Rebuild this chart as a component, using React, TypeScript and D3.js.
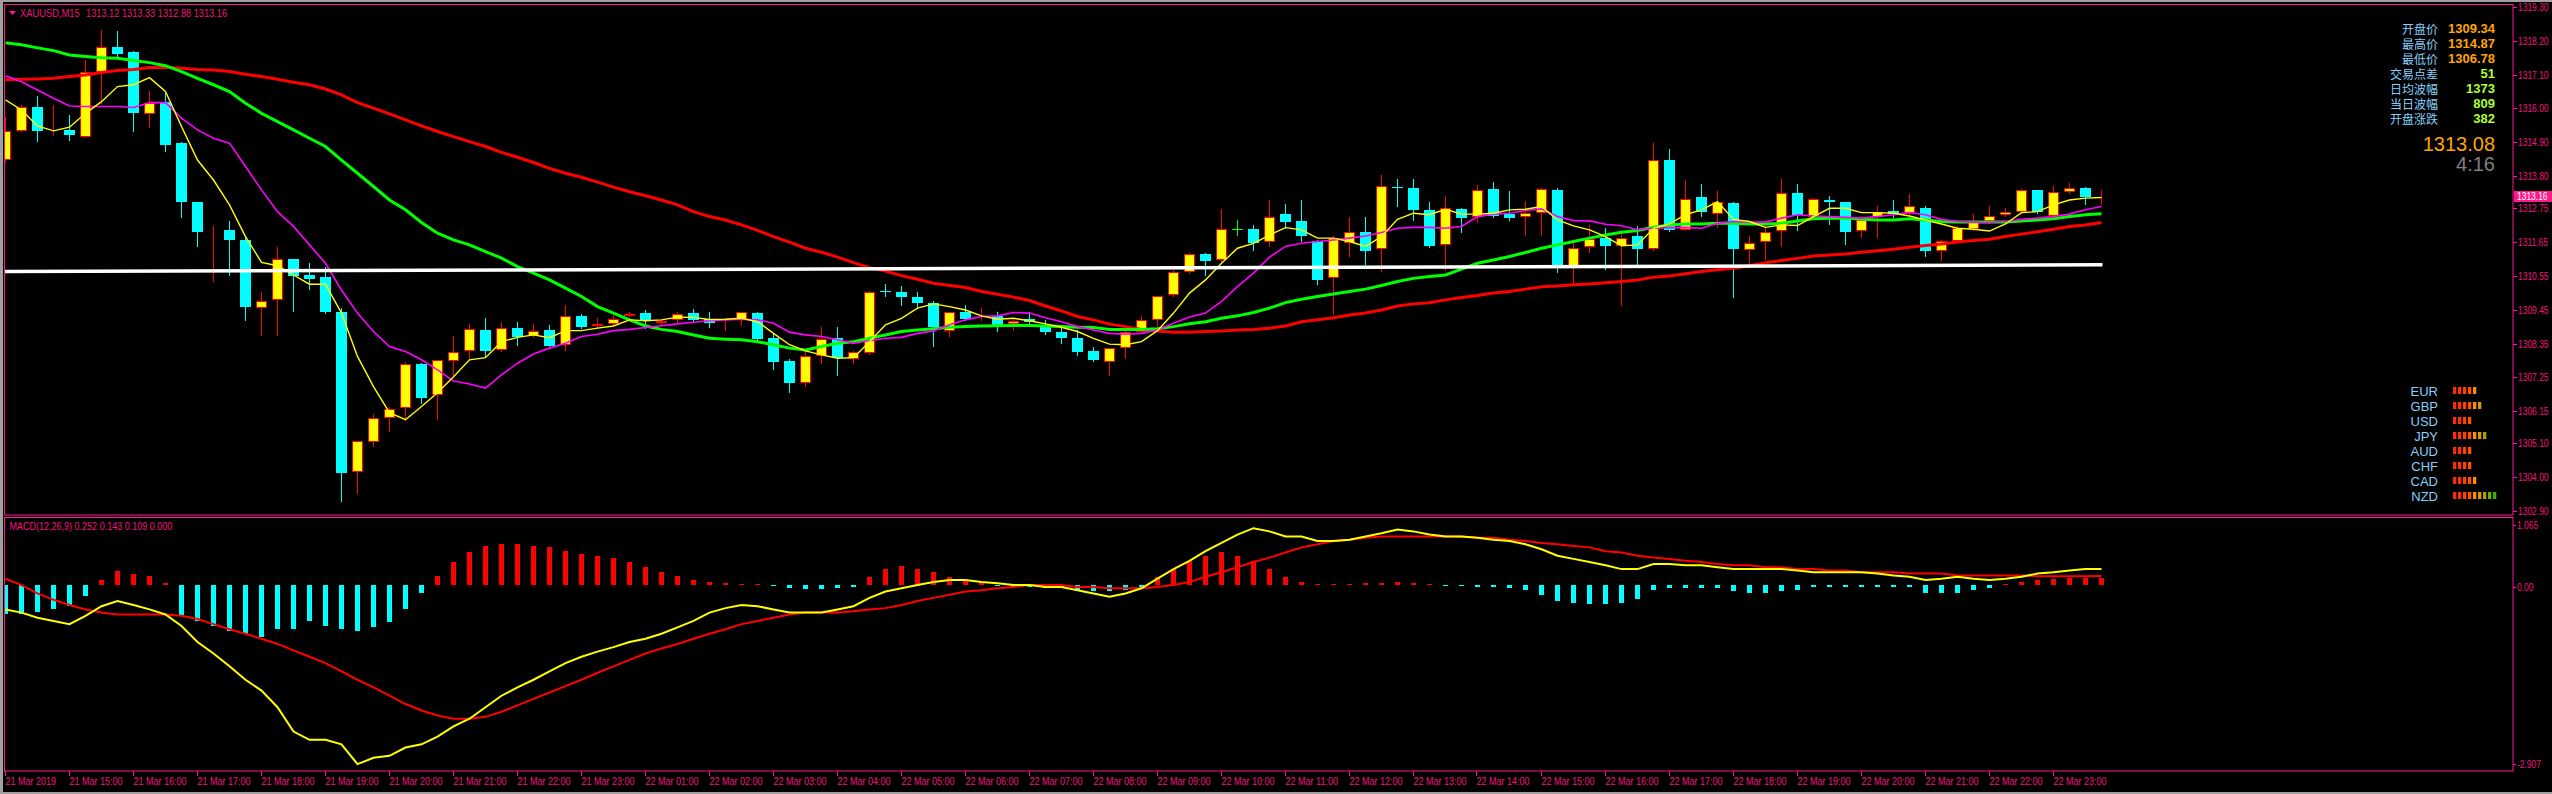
import React from "react";
import * as d3 from "d3";

// ---------- DATA ----------
const opens = [1314.32,1315.27,1316.04,1315.26,1315.30,1315.08,1317.20,1318.01,1317.82,1315.81,1316.22,1314.87,1312.97,1312.01,1312.03,1311.72,1309.50,1309.77,1311.09,1310.58,1310.50,1309.38,1304.16,1305.16,1305.92,1306.24,1307.69,1306.68,1307.79,1308.11,1308.79,1308.14,1308.85,1308.58,1308.79,1308.31,1309.25,1308.92,1308.99,1309.25,1309.34,1309.01,1309.10,1309.34,1309.15,1309.01,1309.15,1309.34,1308.52,1307.79,1307.06,1307.96,1308.52,1307.85,1308.03,1310.05,1310.02,1309.86,1309.68,1308.76,1309.37,1309.14,1309.26,1308.98,1309.14,1308.92,1308.74,1308.52,1308.11,1307.74,1308.20,1308.74,1309.10,1309.92,1310.67,1311.26,1311.07,1312.07,1312.07,1311.65,1312.56,1312.34,1311.69,1310.47,1311.63,1311.97,1311.42,1313.44,1313.40,1312.70,1311.56,1312.72,1312.48,1313.37,1312.56,1312.46,1312.61,1313.35,1310.80,1311.48,1311.78,1311.53,1311.85,1311.42,1314.32,1312.05,1313.11,1312.57,1312.91,1311.40,1311.65,1312.01,1313.24,1312.48,1313.02,1312.95,1312.01,1312.48,1312.67,1312.61,1312.75,1311.36,1311.69,1312.08,1312.34,1312.54,1312.64,1313.35,1312.50,1313.27,1313.40,1313.12];
const highs = [1315.73,1316.11,1316.39,1316.11,1315.79,1317.56,1318.55,1318.52,1317.87,1316.57,1316.49,1314.92,1312.97,1312.18,1312.34,1311.81,1310.04,1311.48,1311.09,1310.96,1310.85,1309.50,1305.19,1306.06,1306.30,1307.76,1307.71,1307.82,1308.58,1308.99,1309.19,1309.06,1309.06,1308.99,1308.96,1309.61,1309.31,1309.17,1309.28,1309.39,1309.44,1309.12,1309.36,1309.48,1309.37,1309.19,1309.39,1309.36,1308.68,1307.84,1308.14,1308.88,1308.88,1308.11,1310.06,1310.28,1310.23,1310.04,1309.72,1309.39,1309.61,1309.50,1309.39,1309.12,1309.39,1309.12,1308.85,1308.79,1308.25,1308.20,1308.96,1309.25,1309.91,1310.75,1311.31,1311.31,1312.73,1312.37,1312.21,1313.02,1312.89,1313.02,1311.72,1311.85,1312.46,1312.46,1313.84,1313.70,1313.70,1312.94,1313.15,1312.75,1313.51,1313.60,1313.32,1312.99,1313.40,1313.40,1311.61,1312.21,1312.10,1312.05,1312.16,1314.87,1314.68,1313.67,1313.54,1313.32,1312.94,1311.85,1312.18,1313.70,1313.54,1313.08,1313.15,1312.97,1312.48,1312.83,1313.02,1313.22,1312.83,1311.72,1312.16,1312.57,1312.83,1312.77,1313.37,1313.35,1313.48,1313.57,1313.44,1313.33];
const lows = [1314.30,1315.25,1314.95,1315.14,1314.98,1315.06,1316.17,1317.69,1315.25,1315.41,1314.63,1312.48,1311.51,1310.40,1310.58,1309.10,1308.63,1308.63,1309.42,1310.12,1309.34,1303.21,1303.50,1305.00,1305.49,1305.87,1306.41,1305.89,1307.33,1307.87,1307.93,1308.10,1308.31,1308.56,1308.26,1308.14,1308.85,1308.90,1308.96,1309.23,1308.85,1308.99,1309.06,1309.06,1308.88,1308.79,1308.96,1308.48,1307.52,1306.78,1306.98,1307.73,1307.33,1307.73,1308.00,1309.91,1309.61,1309.55,1308.27,1308.60,1309.12,1309.12,1308.77,1308.79,1309.01,1308.66,1308.38,1307.98,1307.78,1307.33,1307.89,1308.68,1308.92,1309.90,1310.64,1310.58,1311.05,1311.88,1311.40,1311.51,1312.16,1311.67,1310.29,1309.31,1311.20,1310.93,1310.72,1312.83,1312.37,1311.49,1310.75,1311.99,1312.32,1312.48,1312.37,1311.88,1311.88,1310.67,1310.28,1311.34,1310.77,1309.61,1310.83,1311.40,1312.01,1312.03,1312.51,1312.13,1309.86,1310.83,1311.10,1311.51,1312.03,1312.43,1312.23,1311.59,1311.80,1311.81,1312.48,1312.54,1311.21,1311.07,1311.67,1312.05,1312.26,1312.50,1312.61,1312.61,1312.48,1313.24,1312.89,1312.88];
const closes = [1315.25,1316.06,1315.25,1315.28,1315.12,1317.20,1317.99,1317.77,1315.86,1316.19,1314.81,1312.94,1311.99,1312.04,1311.72,1309.53,1309.72,1311.09,1310.55,1310.45,1309.36,1304.15,1305.19,1305.92,1306.21,1307.69,1306.59,1307.80,1308.09,1308.82,1308.11,1308.85,1308.55,1308.77,1308.28,1309.23,1308.90,1308.99,1309.15,1309.30,1309.09,1309.09,1309.31,1309.12,1309.03,1309.06,1309.36,1308.50,1307.76,1307.06,1307.96,1308.50,1307.87,1308.07,1310.04,1310.02,1309.85,1309.66,1308.90,1309.36,1309.14,1309.19,1308.96,1309.09,1309.06,1308.71,1308.52,1308.09,1307.80,1308.20,1308.74,1309.10,1309.91,1310.67,1311.26,1311.05,1312.07,1312.07,1311.61,1312.48,1312.32,1311.85,1310.42,1311.78,1311.97,1311.37,1313.46,1313.40,1312.70,1311.51,1312.75,1312.43,1313.33,1312.50,1312.45,1312.61,1313.37,1310.80,1311.47,1311.74,1311.53,1311.78,1311.42,1314.32,1312.03,1313.04,1312.62,1312.97,1311.42,1311.61,1311.97,1313.24,1312.54,1313.04,1312.94,1311.99,1312.37,1312.62,1312.56,1312.81,1311.37,1311.67,1312.10,1312.32,1312.51,1312.62,1313.33,1312.64,1313.27,1313.40,1313.13,1313.16];

const maYellow = [1316.28,1315.95,1315.43,1315.27,1315.39,1315.84,1316.22,1316.71,1316.77,1317.00,1316.55,1315.41,1314.32,1313.67,1312.86,1311.83,1310.99,1310.88,1310.58,1310.28,1310.28,1309.34,1307.93,1306.95,1306.10,1305.87,1306.30,1306.75,1307.27,1307.82,1307.89,1308.41,1308.55,1308.63,1308.54,1308.77,1308.77,1308.85,1308.92,1309.12,1309.09,1309.12,1309.21,1309.20,1309.13,1309.14,1309.17,1309.06,1308.68,1308.31,1308.11,1307.98,1307.87,1307.89,1308.41,1308.96,1309.17,1309.50,1309.64,1309.55,1309.44,1309.25,1309.14,1309.17,1309.09,1308.99,1308.88,1308.74,1308.52,1308.33,1308.31,1308.41,1308.77,1309.34,1309.99,1310.42,1310.96,1311.45,1311.61,1311.88,1312.12,1312.05,1311.78,1311.78,1311.67,1311.51,1311.83,1312.39,1312.59,1312.54,1312.72,1312.56,1312.56,1312.59,1312.70,1312.72,1312.81,1312.37,1312.18,1312.05,1311.83,1311.53,1311.56,1312.10,1312.24,1312.54,1312.70,1312.97,1312.39,1312.32,1312.13,1312.21,1312.19,1312.48,1312.75,1312.75,1312.61,1312.61,1312.59,1312.50,1312.37,1312.24,1312.10,1312.07,1312.01,1312.24,1312.61,1312.64,1312.86,1313.02,1313.08,1313.10];
const maMagenta = [1317.06,1316.87,1316.60,1316.33,1316.08,1316.06,1316.06,1316.06,1316.03,1316.19,1316.19,1315.68,1315.30,1315.03,1314.87,1314.11,1313.35,1312.64,1312.16,1311.56,1310.96,1310.09,1309.34,1308.74,1308.25,1308.09,1307.82,1307.49,1307.13,1307.03,1306.90,1307.33,1307.71,1308.01,1308.20,1308.36,1308.58,1308.65,1308.77,1308.81,1308.87,1308.93,1308.99,1309.04,1309.09,1309.12,1309.14,1309.12,1309.01,1308.72,1308.63,1308.58,1308.47,1308.36,1308.44,1308.52,1308.55,1308.68,1308.76,1308.96,1309.12,1309.23,1309.25,1309.36,1309.34,1309.19,1309.06,1308.90,1308.79,1308.68,1308.65,1308.68,1308.79,1309.01,1309.21,1309.34,1309.72,1310.20,1310.64,1311.16,1311.51,1311.61,1311.67,1311.72,1311.78,1311.85,1311.96,1312.10,1312.13,1312.13,1312.10,1312.16,1312.48,1312.56,1312.59,1312.68,1312.73,1312.48,1312.35,1312.34,1312.23,1312.18,1312.05,1312.10,1312.12,1312.13,1312.10,1312.26,1312.32,1312.30,1312.30,1312.43,1312.54,1312.50,1312.48,1312.46,1312.43,1312.48,1312.54,1312.61,1312.54,1312.39,1312.32,1312.30,1312.29,1312.32,1312.39,1312.43,1312.48,1312.56,1312.70,1312.81];
const maGreen = [1318.14,1318.07,1317.97,1317.88,1317.74,1317.69,1317.65,1317.63,1317.56,1317.49,1317.39,1317.20,1316.98,1316.77,1316.55,1316.17,1315.84,1315.57,1315.30,1315.03,1314.76,1314.32,1313.89,1313.46,1313.02,1312.70,1312.29,1311.94,1311.72,1311.56,1311.34,1311.13,1310.85,1310.64,1310.42,1310.15,1309.88,1309.55,1309.34,1309.12,1308.92,1308.81,1308.74,1308.63,1308.52,1308.49,1308.47,1308.41,1308.31,1308.20,1308.14,1308.25,1308.36,1308.41,1308.52,1308.63,1308.74,1308.79,1308.83,1308.88,1308.90,1308.92,1308.93,1308.94,1308.94,1308.92,1308.90,1308.88,1308.87,1308.81,1308.81,1308.81,1308.83,1308.90,1308.99,1309.06,1309.17,1309.25,1309.36,1309.50,1309.68,1309.79,1309.88,1309.96,1310.04,1310.12,1310.24,1310.37,1310.47,1310.53,1310.58,1310.77,1310.96,1311.07,1311.18,1311.31,1311.45,1311.56,1311.67,1311.78,1311.88,1311.97,1312.03,1312.13,1312.21,1312.24,1312.24,1312.26,1312.26,1312.24,1312.24,1312.26,1312.34,1312.41,1312.43,1312.43,1312.39,1312.37,1312.37,1312.41,1312.37,1312.32,1312.30,1312.30,1312.30,1312.30,1312.34,1312.37,1312.41,1312.48,1312.54,1312.57];
const maRed = [1316.93,1316.95,1316.96,1316.98,1317.04,1317.09,1317.17,1317.23,1317.27,1317.33,1317.34,1317.31,1317.27,1317.25,1317.20,1317.11,1317.04,1316.95,1316.85,1316.77,1316.63,1316.44,1316.19,1316.01,1315.82,1315.63,1315.43,1315.25,1315.08,1314.92,1314.76,1314.57,1314.41,1314.24,1314.05,1313.89,1313.76,1313.60,1313.44,1313.29,1313.16,1313.02,1312.86,1312.64,1312.48,1312.37,1312.21,1312.03,1311.83,1311.65,1311.45,1311.32,1311.16,1310.98,1310.82,1310.71,1310.56,1310.44,1310.31,1310.24,1310.17,1310.04,1309.95,1309.86,1309.75,1309.57,1309.41,1309.23,1309.12,1308.98,1308.90,1308.81,1308.76,1308.72,1308.72,1308.74,1308.76,1308.79,1308.81,1308.85,1308.92,1309.06,1309.12,1309.19,1309.28,1309.34,1309.44,1309.57,1309.64,1309.68,1309.77,1309.85,1309.91,1309.99,1310.04,1310.12,1310.20,1310.22,1310.26,1310.29,1310.33,1310.37,1310.42,1310.51,1310.55,1310.62,1310.69,1310.75,1310.80,1310.88,1310.98,1311.05,1311.12,1311.20,1311.23,1311.26,1311.32,1311.37,1311.42,1311.48,1311.54,1311.59,1311.65,1311.70,1311.74,1311.83,1311.91,1311.99,1312.07,1312.16,1312.21,1312.29];

const macdMain = [-0.38,-0.43,-0.51,-0.56,-0.61,-0.48,-0.33,-0.25,-0.31,-0.38,-0.46,-0.64,-0.89,-1.07,-1.27,-1.48,-1.65,-1.91,-2.29,-2.42,-2.42,-2.49,-2.80,-2.70,-2.67,-2.54,-2.49,-2.37,-2.21,-2.09,-1.91,-1.73,-1.60,-1.48,-1.35,-1.22,-1.12,-1.04,-0.97,-0.89,-0.84,-0.76,-0.66,-0.56,-0.43,-0.36,-0.31,-0.33,-0.38,-0.43,-0.43,-0.43,-0.38,-0.33,-0.20,-0.10,-0.05,0.00,0.05,0.08,0.08,0.05,0.03,0.00,0.00,-0.03,-0.03,-0.08,-0.13,-0.18,-0.13,-0.05,0.10,0.25,0.38,0.53,0.66,0.79,0.89,0.84,0.76,0.76,0.69,0.69,0.71,0.76,0.81,0.87,0.84,0.79,0.76,0.76,0.74,0.71,0.69,0.64,0.56,0.46,0.41,0.36,0.31,0.25,0.25,0.33,0.33,0.31,0.31,0.28,0.25,0.25,0.25,0.25,0.23,0.20,0.20,0.20,0.20,0.18,0.15,0.13,0.08,0.10,0.13,0.10,0.08,0.10,0.13,0.18,0.20,0.23,0.25,0.252];
const macdSignal = [0.10,0.00,-0.13,-0.23,-0.31,-0.38,-0.43,-0.46,-0.46,-0.46,-0.46,-0.48,-0.53,-0.61,-0.69,-0.76,-0.84,-0.92,-1.02,-1.12,-1.22,-1.35,-1.48,-1.60,-1.73,-1.86,-1.96,-2.04,-2.09,-2.09,-2.06,-1.98,-1.88,-1.78,-1.68,-1.58,-1.48,-1.37,-1.27,-1.17,-1.07,-0.99,-0.92,-0.84,-0.76,-0.69,-0.61,-0.56,-0.51,-0.46,-0.43,-0.43,-0.43,-0.41,-0.38,-0.36,-0.31,-0.25,-0.20,-0.15,-0.10,-0.08,-0.05,-0.03,0.00,0.00,0.00,-0.03,-0.03,-0.05,-0.05,-0.05,-0.03,0.00,0.05,0.13,0.20,0.28,0.36,0.43,0.51,0.59,0.64,0.69,0.71,0.74,0.76,0.76,0.76,0.76,0.76,0.76,0.74,0.74,0.71,0.69,0.66,0.64,0.61,0.59,0.53,0.51,0.46,0.43,0.41,0.38,0.36,0.33,0.31,0.31,0.28,0.28,0.25,0.25,0.23,0.23,0.20,0.20,0.20,0.18,0.18,0.18,0.15,0.15,0.15,0.15,0.15,0.14,0.14,0.14,0.14,0.143];
const macdHist = [-0.45,-0.45,-0.42,-0.38,-0.32,-0.17,0.08,0.22,0.17,0.14,0.03,-0.46,-0.56,-0.64,-0.71,-0.76,-0.81,-0.69,-0.69,-0.56,-0.64,-0.69,-0.71,-0.66,-0.58,-0.38,-0.13,0.15,0.36,0.51,0.61,0.64,0.64,0.61,0.59,0.53,0.48,0.46,0.43,0.36,0.28,0.20,0.15,0.08,0.05,0.03,0.02,0.01,-0.02,-0.05,-0.06,-0.06,-0.05,-0.03,0.13,0.25,0.30,0.25,0.20,0.13,0.08,0.05,-0.02,-0.03,-0.03,-0.05,-0.05,-0.08,-0.10,-0.10,-0.08,-0.03,0.13,0.25,0.38,0.46,0.51,0.46,0.38,0.25,0.13,0.05,0.02,0.01,0.02,0.03,0.04,0.05,0.03,0.01,-0.01,-0.02,-0.03,-0.03,-0.05,-0.08,-0.15,-0.25,-0.28,-0.30,-0.30,-0.28,-0.22,-0.08,-0.05,-0.05,-0.05,-0.05,-0.10,-0.13,-0.13,-0.10,-0.08,-0.03,-0.03,-0.03,-0.03,-0.03,-0.03,-0.03,-0.12,-0.13,-0.12,-0.08,-0.05,0.02,0.05,0.08,0.10,0.11,0.11,0.109];

const trendStart = 1310.69;
const trendEnd = 1310.91;

const priceTicks = ["1319.30","1318.20","1317.10","1316.00","1314.90","1313.80","1312.75","1311.65","1310.55","1309.45","1308.35","1307.25","1306.15","1305.10","1304.00","1302.90"];
const macdTicks = ["1.065","0.00","-2.907"];
const timeLabels = ["21 Mar 2019","21 Mar 15:00","21 Mar 16:00","21 Mar 17:00","21 Mar 18:00","21 Mar 19:00","21 Mar 20:00","21 Mar 21:00","21 Mar 22:00","21 Mar 23:00","22 Mar 01:00","22 Mar 02:00","22 Mar 03:00","22 Mar 04:00","22 Mar 05:00","22 Mar 06:00","22 Mar 07:00","22 Mar 08:00","22 Mar 09:00","22 Mar 10:00","22 Mar 11:00","22 Mar 12:00","22 Mar 13:00","22 Mar 14:00","22 Mar 15:00","22 Mar 16:00","22 Mar 17:00","22 Mar 18:00","22 Mar 19:00","22 Mar 20:00","22 Mar 21:00","22 Mar 22:00","22 Mar 23:00"];

const infoLabels = ["开盘价","最高价","最低价","交易点差","日均波幅","当日波幅","开盘涨跌"];
const infoValues = ["1309.34","1314.87","1306.78","51","1373","809","382"];
const bigPrice = "1313.08";
const timer = "4:16";
const lastBar = { o: "1313.12", h: "1313.33", l: "1312.88", c: "1313.16" };
const macdTitle = "MACD(12,26,9) 0.252 0.143 0.109 0.000";

const currencies = ["EUR","GBP","USD","JPY","AUD","CHF","CAD","NZD"];
const strengths = [5,6,4,7,4,4,5,9];
const strengthColors = ["#ff2a00","#ff3300","#ff4000","#ff5000","#ff8c00","#d89a00","#a8a000","#7aa800","#3cb000"];

const PINK = "#ff1493";
const TXT = "#f0157f";
const AXFONT = "'Liberation Sans',Arial,sans-serif";

// narrow MT4-style label, horizontally compressed by a transform
function NarrowText(props: { x: number; y: number; text: string; sx?: number; fill?: string; size?: number }) {
  const sx = props.sx ?? 0.77;
  return (
    <text
      transform={`translate(${props.x},${props.y}) scale(${sx},1)`}
      dominantBaseline="central"
      fontFamily={AXFONT}
      fontSize={props.size ?? 11}
      fill={props.fill ?? TXT}
    >
      {props.text}
    </text>
  );
}

export default function App() {
  const W = 2552, H = 794;
  const n = closes.length;
  const x = d3.scaleLinear().domain([0, n - 1]).range([5.5, 5.5 + 16 * (n - 1)]);
  const py = d3.scaleLinear().domain([1302.77, 1319.365]).range([515, 5]);
  const my = d3.scaleLinear().domain([-2.907, 1.065]).range([771, 517]);
  const pline = (arr: number[]) => d3.line<number>().x((_, i) => x(i)).y((d) => py(d))(arr) || "";
  const mline = (arr: number[]) => d3.line<number>().x((_, i) => x(i)).y((d) => my(d))(arr) || "";
  const zeroY = Math.round(my(0));

  return (
    <div style={{ position: "absolute", left: 0, top: 0, width: W, height: H, background: "#000" }}>
      <svg width={W} height={H} style={{ display: "block" }}>
        <defs>
          <clipPath id="pp"><rect x={5} y={5} width={2508} height={510} /></clipPath>
          <clipPath id="mp"><rect x={5} y={518} width={2508} height={253} /></clipPath>
        </defs>
        <rect x={0} y={0} width={W} height={H} fill="#000" />
        <rect x={0} y={0} width={W} height={2} fill="#a0a0a0" />
        <rect x={0} y={0} width={3} height={H} fill="#a0a0a0" />
        <rect x={0} y={792} width={W} height={2} fill="#a0a0a0" />

        {/* price pane */}
        <g clipPath="url(#pp)">
          {closes.map((c, i) => {
            const o = opens[i], h = highs[i], l = lows[i];
            const cx = x(i);
            const left = cx - 5.5;
            const yo = Math.round(py(o)), yc = Math.round(py(c));
            const yh = Math.round(py(h)), yl = Math.round(py(l));
            if (o === c) {
              return (
                <g key={i}>
                  <rect x={cx - 0.5} y={yh} width={1} height={yl - yh + 1} fill="#00ff00" />
                  <rect x={left} y={yo} width={11} height={1} fill="#00ff00" />
                </g>
              );
            }
            if (c > o) {
              return (
                <g key={i}>
                  <rect x={cx - 0.5} y={yh} width={1} height={yl - yh + 1} fill="#ff0000" />
                  <rect x={left + 0.5} y={yc + 0.5} width={10} height={Math.max(yo - yc - 1, 0)} fill="#ffff00" stroke="#ff0000" strokeWidth={1} />
                </g>
              );
            }
            return (
              <g key={i}>
                <rect x={cx - 0.5} y={yh} width={1} height={yl - yh + 1} fill="#00ffff" />
                <rect x={left} y={yo} width={11} height={Math.max(yc - yo, 1)} fill="#00ffff" />
              </g>
            );
          })}
          <path d={pline(maRed)} fill="none" stroke="#ff0000" strokeWidth={3} />
          <path d={pline(maGreen)} fill="none" stroke="#00ff00" strokeWidth={3} />
          <path d={pline(maMagenta)} fill="none" stroke="#ff00ff" strokeWidth={1.6} />
          <path d={pline(maYellow)} fill="none" stroke="#ffff00" strokeWidth={1.4} />
          <line x1={4} x2={x(n - 1) + 1} y1={py(trendStart)} y2={py(trendEnd)} stroke="#ffffff" strokeWidth={3.5} />
        </g>
        <rect x={4.5} y={4.5} width={2508.5} height={510.5} fill="none" stroke={PINK} strokeWidth={1} />

        {/* title */}
        <path d="M9,11 L16,11 L12.5,15 Z" fill={PINK} />
        <NarrowText x={20} y={13} text="XAUUSD,M15" sx={0.85} />
        <NarrowText x={86} y={13} text={`${lastBar.o} ${lastBar.h} ${lastBar.l} ${lastBar.c}`} sx={0.84} />

        {/* info panel */}
        {infoLabels.map((t, k) => (
          <g key={t}>
            <text x={2438} y={28.3 + 15 * k} textAnchor="end" dominantBaseline="central" fontFamily="'Noto Sans CJK SC',sans-serif" fontSize={12} fill="#87cefa">{t}</text>
            <text x={2495} y={28.8 + 15 * k} textAnchor="end" dominantBaseline="central" fontFamily="'Liberation Sans',Arial,sans-serif" fontWeight="bold" fontSize={13} fill={k < 3 ? "#ffa500" : "#adff2f"}>{infoValues[k]}</text>
          </g>
        ))}
        <text x={2495} y={144} textAnchor="end" dominantBaseline="central" fontFamily="'Liberation Sans',Arial,sans-serif" fontSize={20} fill="#ffa500">{bigPrice}</text>
        <text x={2495} y={164} textAnchor="end" dominantBaseline="central" fontFamily="'Liberation Sans',Arial,sans-serif" fontSize={20} fill="#808080">{timer}</text>

        {/* currency strength */}
        {currencies.map((c, k) => (
          <g key={c}>
            <text x={2438} y={391 + 15 * k} textAnchor="end" dominantBaseline="central" fontFamily="'Liberation Sans',Arial,sans-serif" fontSize={13} fill="#87cefa">{c}</text>
            {d3.range(strengths[k]).map((j) => (
              <rect key={j} x={2453 + 5 * j} y={387 + 15 * k} width={3.3} height={7} fill={strengthColors[j]} />
            ))}
          </g>
        ))}

        {/* price axis */}
        {priceTicks.map((t) => {
          const yy = Math.round(py(+t)) + 0.5;
          return (
            <g key={t}>
              <line x1={2513} x2={2517} y1={yy} y2={yy} stroke={PINK} />
              <NarrowText x={2518} y={yy} text={t} />
            </g>
          );
        })}
        {(() => {
          const yy = Math.round(py(closes[n - 1]));
          return (
            <g>
              <rect x={2514} y={yy - 5} width={38} height={11} fill="#ff1a8c" />
              <NarrowText x={2517} y={yy + 0.5} text={lastBar.c} fill="#ffffff" />
            </g>
          );
        })()}

        {/* MACD pane */}
        <g clipPath="url(#mp)">
          {macdHist.map((v, i) => {
            const yv = Math.round(my(v));
            return (
              <rect key={i} x={x(i) - 2.5} y={Math.min(yv, zeroY)} width={5} height={Math.max(Math.abs(yv - zeroY), 1)} fill={v >= 0 ? "#ff0000" : "#00ffff"} />
            );
          })}
          <path d={mline(macdSignal)} fill="none" stroke="#ff0000" strokeWidth={2} />
          <path d={mline(macdMain)} fill="none" stroke="#ffff00" strokeWidth={2} />
        </g>
        <rect x={4.5} y={517.5} width={2508.5} height={253.5} fill="none" stroke={PINK} strokeWidth={1} />
        <NarrowText x={9.5} y={526} text={macdTitle} sx={0.82} />
        {macdTicks.map((t, k) => {
          const yy = k === 0 ? 525 : k === 1 ? 587 : 764;
          return (
            <g key={t}>
              <line x1={2513} x2={2516} y1={yy + 0.5} y2={yy + 0.5} stroke={PINK} />
              <NarrowText x={2517} y={yy} text={t} />
            </g>
          );
        })}

        {/* time axis */}
        {timeLabels.map((t, k) => {
          const xx = Math.round(x(4 * k)) - 0.5;
          return (
            <g key={t}>
              <line x1={xx} x2={xx} y1={771} y2={776} stroke={PINK} />
              <NarrowText x={xx} y={781} text={t} sx={0.82} />
            </g>
          );
        })}
      </svg>
    </div>
  );
}
